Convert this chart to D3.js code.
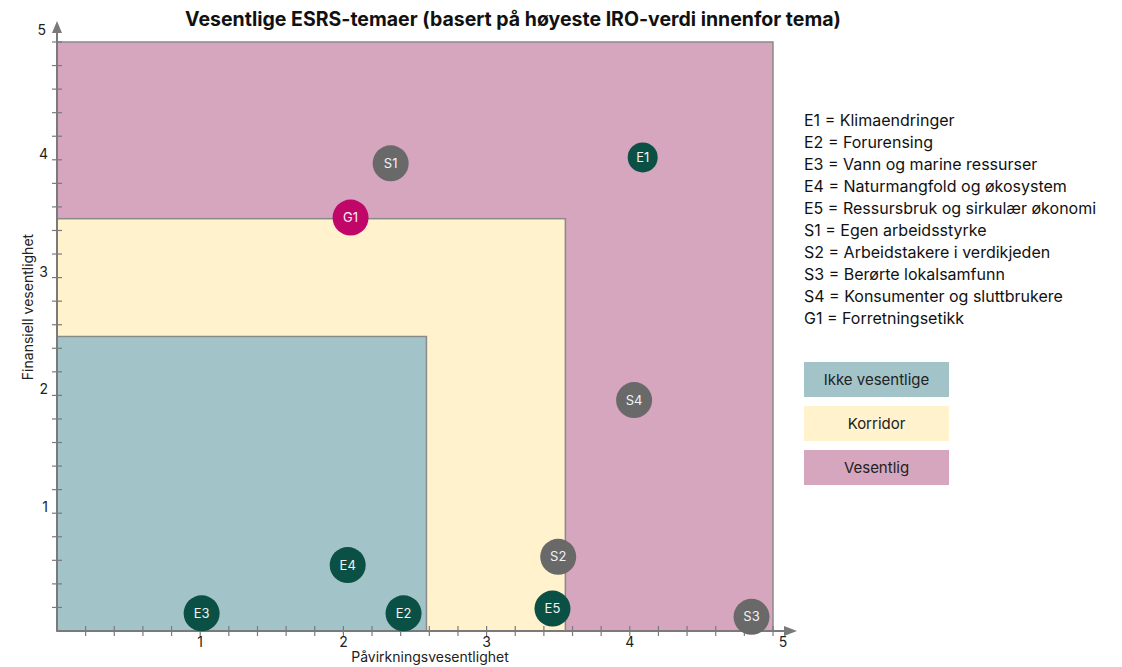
<!DOCTYPE html>
<html>
<head>
<meta charset="utf-8">
<script src="https://cdn.jsdelivr.net/npm/d3@7"></script>
<style>
  body { margin: 0; background: #fff; }
  svg { display: block; font-family: Inter, "Noto Sans", sans-serif; }
</style>
</head>
<body>
<div id="chart"></div>
<script>
// topics and their scores (impact, financial)
const codes = ["S1", "E1", "G1", "S4", "S2", "E5", "S3", "E4", "E3", "E2"];
const impact = [2.33, 4.09, 2.05, 4.03, 3.5, 3.46, 4.85, 2.03, 1.01, 2.42];
const financial = [3.97, 4.02, 3.51, 1.96, 0.63, 0.19, 0.12, 0.56, 0.15, 0.15];
const pillar = ["S", "E", "G", "S", "S", "E", "S", "E", "E", "E"];

// zones: [x upper bound, y upper bound]
const zoneNames = ["Vesentlig", "Korridor", "Ikke vesentlige"];
const zoneX = [5, 3.55, 2.58];
const zoneY = [5, 3.5, 2.5];

const legendLines = [
  "E1 = Klimaendringer",
  "E2 = Forurensing",
  "E3 = Vann og marine ressurser",
  "E4 = Naturmangfold og økosystem",
  "E5 = Ressursbruk og sirkulær økonomi",
  "S1 = Egen arbeidsstyrke",
  "S2 = Arbeidstakere i verdikjeden",
  "S3 = Berørte lokalsamfunn",
  "S4 = Konsumenter og sluttbrukere",
  "G1 = Forretningsetikk"
];
const legendZones = ["Ikke vesentlige", "Korridor", "Vesentlig"];

const zoneColor = { "Vesentlig": "#d5a6bd", "Korridor": "#fff2cc", "Ikke vesentlige": "#a2c4c9" };
const pillarColor = { E: "#0b5044", S: "#696969", G: "#c1066a" };

const width = 1122, height = 667;
const svg = d3.select("#chart").append("svg")
  .attr("width", width).attr("height", height);

const x = d3.scaleLinear().domain([0, 5]).range([57, 773]);
const y = d3.scaleLinear().domain([0, 5]).range([631, 42]);

// zones
svg.append("g").selectAll("rect")
  .data(zoneNames)
  .join("rect")
  .attr("x", x(0))
  .attr("y", (d, i) => y(zoneY[i]))
  .attr("width", (d, i) => x(zoneX[i]) - x(0))
  .attr("height", (d, i) => y(0) - y(zoneY[i]))
  .attr("fill", d => zoneColor[d])
  .attr("stroke", "#8a8a8a")
  .attr("stroke-width", 1.5);

// axes
const axisColor = "#7a7a7a";
const minor = d3.range(1, 26).map(i => i / 5);
const g = svg.append("g");
g.append("line")
  .attr("x1", x(0)).attr("x2", 788).attr("y1", y(0)).attr("y2", y(0))
  .attr("stroke", axisColor).attr("stroke-width", 2);
g.append("path")
  .attr("d", `M797,${y(0)} L784,${y(0) - 5} L784,${y(0) + 5} Z`)
  .attr("fill", axisColor);
g.append("line")
  .attr("x1", x(0)).attr("x2", x(0)).attr("y1", y(0)).attr("y2", 31)
  .attr("stroke", axisColor).attr("stroke-width", 2);
g.append("path")
  .attr("d", `M${x(0)},21 L${x(0) - 5},33 L${x(0) + 5},33 Z`)
  .attr("fill", axisColor);

g.selectAll(".xt").data(minor).join("line")
  .attr("class", "xt")
  .attr("x1", d => x(d)).attr("x2", d => x(d))
  .attr("y1", y(0) - 5).attr("y2", y(0) + 5)
  .attr("stroke", axisColor).attr("stroke-width", 1.2);
g.selectAll(".yt").data(minor).join("line")
  .attr("class", "yt")
  .attr("y1", d => y(d)).attr("y2", d => y(d))
  .attr("x1", x(0) - 5).attr("x2", x(0) + 5)
  .attr("stroke", axisColor).attr("stroke-width", 1.2);

const tickVals = [1, 2, 3, 4];
g.selectAll(".xl").data(tickVals).join("text")
  .attr("class", "xl")
  .attr("x", d => x(d)).attr("y", y(0) + 16)
  .attr("text-anchor", "middle")
  .attr("font-size", 14).attr("fill", "#222")
  .text(d => d);
g.append("text").attr("x", 783).attr("y", 647)
  .attr("text-anchor", "middle").attr("font-size", 14).attr("fill", "#222").text("5");
g.selectAll(".yl").data(tickVals).join("text")
  .attr("class", "yl")
  .attr("x", 48).attr("y", d => y(d) - 1)
  .attr("text-anchor", "end")
  .attr("font-size", 14).attr("fill", "#222")
  .text(d => d);
g.append("text").attr("x", 46).attr("y", 35)
  .attr("text-anchor", "end").attr("font-size", 14).attr("fill", "#222").text("5");

// axis titles
svg.append("text")
  .attr("x", 430).attr("y", 662)
  .attr("text-anchor", "middle").attr("font-size", 14).attr("fill", "#222")
  .text("Påvirkningsvesentlighet");
svg.append("text")
  .attr("transform", "translate(33,307) rotate(-90)")
  .attr("text-anchor", "middle").attr("font-size", 14).attr("fill", "#222")
  .text("Finansiell vesentlighet");

// title
svg.append("text")
  .attr("x", 513).attr("y", 26)
  .attr("text-anchor", "middle")
  .attr("font-size", 19.5).attr("font-weight", "bold").attr("fill", "#111")
  .text("Vesentlige ESRS-temaer (basert på høyeste IRO-verdi innenfor tema)");

// bubbles
const bubbles = svg.append("g").selectAll("g")
  .data(codes)
  .join("g")
  .attr("transform", (d, i) => `translate(${x(impact[i])},${y(financial[i])})`);
bubbles.append("circle")
  .attr("r", d => d === "E1" ? 15 : 18)
  .attr("fill", (d, i) => pillarColor[pillar[i]]);
bubbles.append("text")
  .attr("text-anchor", "middle")
  .attr("dy", "0.35em")
  .attr("font-size", 13)
  .attr("fill", "#f2f2f2")
  .text(d => d);

// legend text
svg.append("g").selectAll("text")
  .data(legendLines)
  .join("text")
  .attr("x", 804)
  .attr("y", (d, i) => 126 + i * 22)
  .attr("font-size", 16)
  .attr("fill", "#111")
  .text(d => d);

// zone legend
const zl = svg.append("g").selectAll("g")
  .data(legendZones)
  .join("g")
  .attr("transform", (d, i) => `translate(804,${362 + i * 44})`);
zl.append("rect")
  .attr("width", 145).attr("height", 35)
  .attr("fill", d => zoneColor[d]);
zl.append("text")
  .attr("x", 72.5).attr("y", 18)
  .attr("dy", "0.35em")
  .attr("text-anchor", "middle")
  .attr("font-size", 15).attr("fill", "#222")
  .text(d => d);
</script>
</body>
</html>
